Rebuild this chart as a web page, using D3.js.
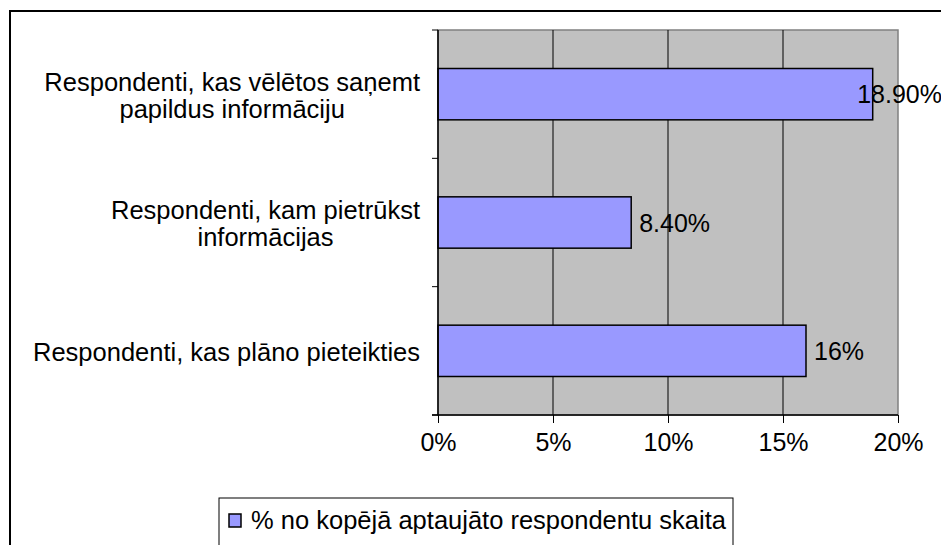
<!DOCTYPE html>
<html><head><meta charset="utf-8">
<script src="https://cdn.jsdelivr.net/npm/d3@7/dist/d3.min.js"></script>
<style>body{margin:0;background:#fff}svg{display:block}text{font-family:"Liberation Sans",Arial,sans-serif;fill:#000}</style>
</head><body><svg id="c" width="941" height="545"></svg>
<script>
const categories = [
  ["Respondenti, kas vēlētos saņemt", "papildus informāciju"],
  ["Respondenti, kam pietrūkst", "informācijas"],
  ["Respondenti, kas plāno pieteikties"]
];
const values = [18.9, 8.4, 16];
const valueLabels = ["18.90%", "8.40%", "16%"];
const ticks = [0, 5, 10, 15, 20];
const tickLabels = ["0%", "5%", "10%", "15%", "20%"];
const legendLabel = "% no kopējā aptaujāto respondentu skaita";

const W = 941, H = 545;
const svg = d3.select("#c");
const m = {left: 438, right: 898, top: 30, bottom: 415};
const fs = 25;
const fsCat = 25.5;

// outer border
svg.append("rect").attr("x", 10).attr("y", 11).attr("width", W + 20).attr("height", H + 20)
  .attr("fill", "#fff").attr("stroke", "#000").attr("stroke-width", 2);

const x = d3.scaleLinear().domain([0, 20]).range([m.left, m.right]);
const y = d3.scaleBand().domain(d3.range(categories.length)).range([m.top, m.bottom])
  .paddingInner(0.6).paddingOuter(0.3);

// plot area
svg.append("rect").attr("x", m.left).attr("y", m.top).attr("width", m.right - m.left)
  .attr("height", m.bottom - m.top).attr("fill", "#C0C0C0").attr("stroke", "#808080").attr("stroke-width", 1.5);

// gridlines
svg.append("g").selectAll("line").data(ticks.slice(1, -1)).join("line")
  .attr("x1", d => x(d)).attr("x2", d => x(d)).attr("y1", m.top).attr("y2", m.bottom)
  .attr("stroke", "#000").attr("stroke-width", 1);

// bars
svg.append("g").selectAll("rect").data(values).join("rect")
  .attr("x", x(0)).attr("y", (d, i) => y(i)).attr("width", d => x(d) - x(0))
  .attr("height", y.bandwidth()).attr("fill", "#9999FF").attr("stroke", "#000").attr("stroke-width", 1.5);

// x axis
const xAxis = d3.axisBottom(x).tickValues(ticks).tickFormat((d, i) => tickLabels[i])
  .tickSize(8).tickSizeOuter(0).tickPadding(10);
const gx = svg.append("g").attr("transform", `translate(0,${m.bottom})`).call(xAxis);
gx.select(".domain").remove();
gx.append("line").attr("x1", m.left - 6).attr("x2", m.right).attr("stroke", "#000").attr("stroke-width", 1.5);
gx.selectAll(".tick line").attr("stroke", "#000");
gx.selectAll(".tick text").attr("font-size", fs).attr("font-family", "Liberation Sans, Arial, sans-serif")
  .attr("fill", "#000").attr("dy", null).attr("y", 36);

// y axis line + ticks at band boundaries
svg.append("line").attr("x1", m.left).attr("x2", m.left).attr("y1", m.top).attr("y2", m.bottom)
  .attr("stroke", "#000").attr("stroke-width", 1.5);
const bounds = d3.range(categories.length + 1).map(i => m.top + i * (m.bottom - m.top) / categories.length);
svg.append("g").selectAll("line").data(bounds).join("line")
  .attr("x1", m.left - 6).attr("x2", m.left).attr("y1", d => d).attr("y2", d => d)
  .attr("stroke", "#000").attr("stroke-width", 1);

// category labels
const lineH = 27;
categories.forEach((lines, i) => {
  const cy = y(i) + y.bandwidth() / 2;
  const g = svg.append("g");
  const texts = lines.map((t, j) => g.append("text").attr("font-size", fsCat).attr("text-anchor", "middle")
    .attr("y", cy + (j - (lines.length - 1) / 2) * lineH + fsCat * 0.36 + 1).text(t));
  const bw = d3.max(texts, t => t.node().getComputedTextLength());
  texts.forEach(t => t.attr("x", 420 - bw / 2));
});

// value labels
values.forEach((v, i) => {
  const t = svg.append("text").attr("font-size", fs)
    .attr("y", y(i) + y.bandwidth() / 2 + fs * 0.36).text(valueLabels[i]);
  const w = t.node().getComputedTextLength();
  t.attr("x", Math.min(x(v) + 8, W - w + 1));
});

// legend
const lg = svg.append("g");
lg.append("rect").attr("x", 219).attr("y", 498).attr("width", 514).attr("height", 50)
  .attr("fill", "#fff").attr("stroke", "#000").attr("stroke-width", 1);
lg.append("rect").attr("x", 229).attr("y", 514).attr("width", 12).attr("height", 13)
  .attr("fill", "#9999FF").attr("stroke", "#000").attr("stroke-width", 1.5);
lg.append("text").attr("x", 251).attr("y", 529).attr("font-size", fsCat).text(legendLabel);
</script></body></html>
